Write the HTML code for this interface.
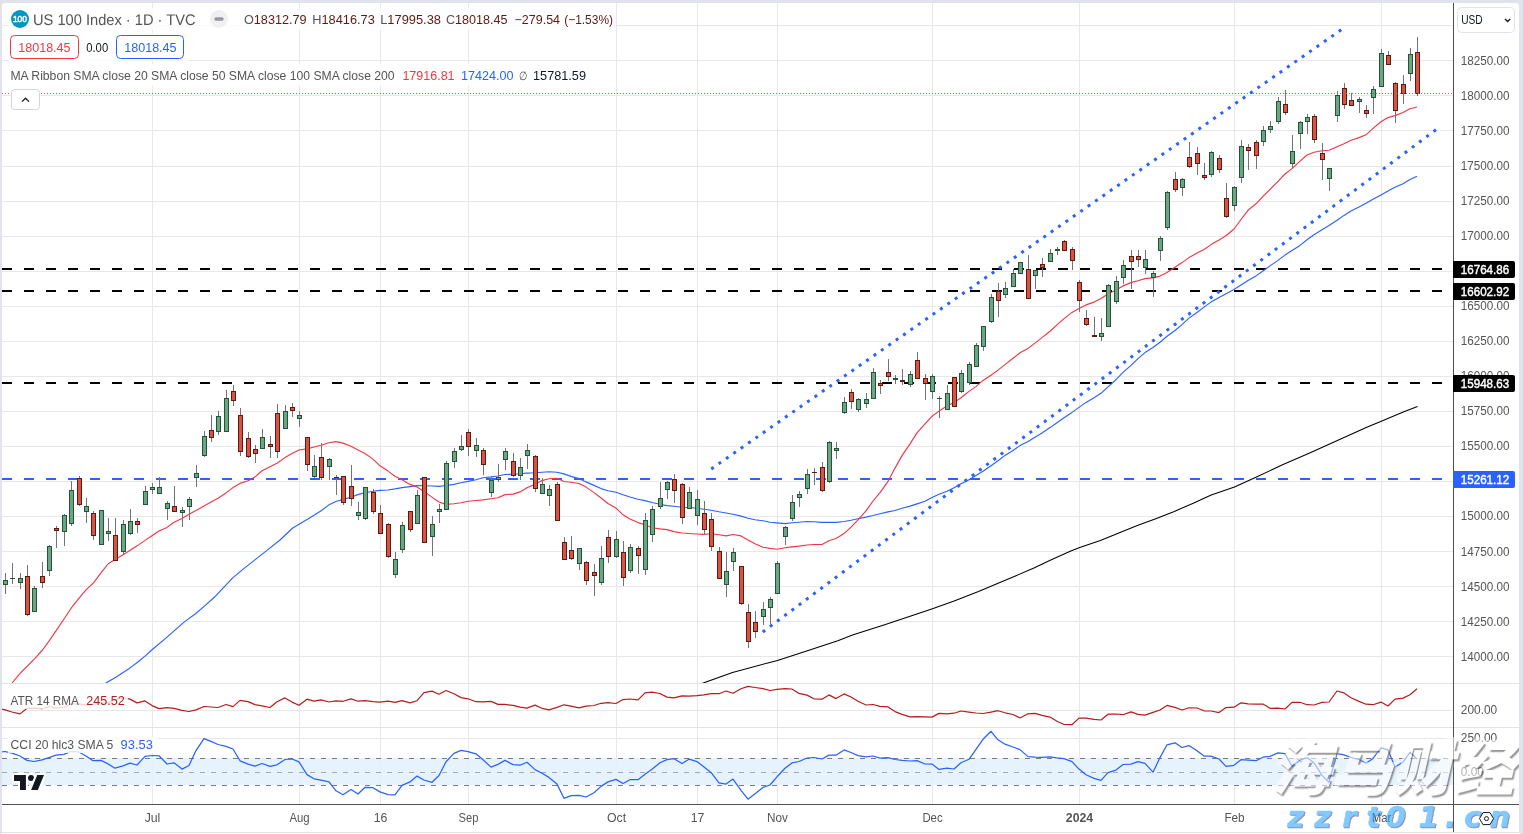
<!DOCTYPE html><html lang="en"><head><meta charset="utf-8"><title>US 100 Index chart</title><style>
*{box-sizing:border-box;margin:0;padding:0}
html,body{width:1523px;height:834px;overflow:hidden;background:#fff}
body{font-family:"Liberation Sans","Noto Sans CJK SC",sans-serif;position:relative;color:#555}
.t{position:absolute;white-space:nowrap;line-height:1}
</style></head><body>
<svg width="1523" height="834" viewBox="0 0 1523 834" style="position:absolute;left:0;top:0">
<defs><clipPath id="cm"><rect x="2" y="3" width="1451" height="680"/></clipPath><clipPath id="ca"><rect x="2" y="684" width="1451" height="43"/></clipPath><clipPath id="cc"><rect x="2" y="728" width="1451" height="76"/></clipPath></defs>
<g shape-rendering="crispEdges" fill="#e8e8e8">
<rect x="2" y="25" width="1451" height="1"/>
<rect x="2" y="60" width="1451" height="1"/>
<rect x="2" y="95" width="1451" height="1"/>
<rect x="2" y="130" width="1451" height="1"/>
<rect x="2" y="166" width="1451" height="1"/>
<rect x="2" y="201" width="1451" height="1"/>
<rect x="2" y="236" width="1451" height="1"/>
<rect x="2" y="271" width="1451" height="1"/>
<rect x="2" y="306" width="1451" height="1"/>
<rect x="2" y="341" width="1451" height="1"/>
<rect x="2" y="376" width="1451" height="1"/>
<rect x="2" y="411" width="1451" height="1"/>
<rect x="2" y="446" width="1451" height="1"/>
<rect x="2" y="481" width="1451" height="1"/>
<rect x="2" y="516" width="1451" height="1"/>
<rect x="2" y="551" width="1451" height="1"/>
<rect x="2" y="586" width="1451" height="1"/>
<rect x="2" y="621" width="1451" height="1"/>
<rect x="2" y="656" width="1451" height="1"/>
<rect x="152" y="3" width="1" height="801"/>
<rect x="299" y="3" width="1" height="801"/>
<rect x="380" y="3" width="1" height="801"/>
<rect x="468" y="3" width="1" height="801"/>
<rect x="616" y="3" width="1" height="801"/>
<rect x="697" y="3" width="1" height="801"/>
<rect x="777" y="3" width="1" height="801"/>
<rect x="932" y="3" width="1" height="801"/>
<rect x="1079" y="3" width="1" height="801"/>
<rect x="1234" y="3" width="1" height="801"/>
<rect x="1381" y="3" width="1" height="801"/>
<rect x="2" y="710" width="1451" height="1"/>
<rect x="2" y="738" width="1451" height="1"/>
</g>
<rect x="2" y="758" width="1451" height="27" fill="#e3f2fd" opacity="0.9"/>
<g shape-rendering="crispEdges" stroke="#787b86" stroke-width="1" stroke-dasharray="5 6">
<line x1="2" y1="758.5" x2="1453" y2="758.5" opacity="1"/>
<line x1="2" y1="772.5" x2="1453" y2="772.5" opacity="0.6"/>
<line x1="2" y1="785.5" x2="1453" y2="785.5" opacity="1"/>
</g>
<g shape-rendering="crispEdges" fill="#e0e3eb"><rect x="2" y="683" width="1517" height="1"/><rect x="2" y="727" width="1517" height="1"/></g>
<line x1="2" y1="269" x2="1453" y2="269" stroke="#000" stroke-width="2" stroke-dasharray="10 12" shape-rendering="crispEdges"/>
<line x1="2" y1="291" x2="1453" y2="291" stroke="#000" stroke-width="2" stroke-dasharray="10 12" shape-rendering="crispEdges"/>
<line x1="2" y1="383" x2="1453" y2="383" stroke="#000" stroke-width="2" stroke-dasharray="10 12" shape-rendering="crispEdges"/>
<line x1="2" y1="479" x2="1453" y2="479" stroke="#2962ff" stroke-width="2" stroke-dasharray="10 12" shape-rendering="crispEdges"/>
<g stroke="#2962ff" stroke-width="3" stroke-dasharray="3 6" fill="none">
<line x1="711.23" y1="469.0" x2="1341.4" y2="29.65"/>
<line x1="762.7" y1="632.0" x2="1436.1" y2="129.6"/>
</g>
<g clip-path="url(#cm)">
<polyline points="696.0,686.0 703.9,682.8 732.5,672.4 777.5,660.4 808.2,650.5 837.8,640.7 852.5,635.1 883.9,625.0 911.6,615.7 932.5,608.7 954.1,601.0 978.5,591.5 996.9,583.8 1015.4,576.0 1033.9,568.0 1052.4,559.2 1070.8,550.9 1079.7,547.5 1100.4,540.4 1118.8,533.0 1137.3,525.6 1155.8,518.7 1174.3,511.4 1192.7,503.4 1211.2,495.1 1234.5,487.1 1255.4,477.5 1283.1,464.6 1310.8,452.6 1338.5,440.0 1366.2,427.6 1381.9,421.0 1403.2,411.9 1417.5,406.6" fill="none" stroke="#000000" stroke-width="1.05" stroke-linejoin="round" />
<polyline points="99.5,688.0 106.6,682.6 115.4,677.6 129.3,668.4 137.6,662.3 145.9,655.4 152.6,649.3 166.2,637.9 175.5,629.6 184.7,621.6 195.8,613.5 205.0,605.6 214.3,597.3 223.5,587.7 232.7,577.9 243.8,568.6 254.9,559.9 266.0,551.1 280.0,540.0 292.7,528.0 299.5,523.9 307.4,519.2 314.4,514.9 321.5,510.5 329.5,504.4 336.5,501.2 343.4,499.4 351.5,497.0 358.5,494.4 365.0,492.7 373.0,491.3 380.0,490.4 388.0,490.0 395.0,488.9 402.0,487.6 410.0,486.6 417.0,485.6 424.0,485.8 432.0,486.0 439.0,486.4 446.0,485.5 454.0,484.4 461.0,482.7 468.0,481.4 476.0,479.7 483.0,477.7 491.0,476.9 498.0,476.0 505.0,474.5 513.0,474.2 520.0,473.8 527.0,473.1 535.0,472.8 542.0,472.2 549.0,471.8 557.0,472.2 564.0,473.9 571.0,476.4 579.0,478.6 586.0,481.9 594.0,485.4 601.0,488.6 608.0,490.7 616.0,492.3 623.0,494.8 630.0,497.0 638.0,499.2 645.0,500.6 652.0,502.5 660.0,504.3 667.0,505.6 674.0,506.2 682.0,507.2 689.0,507.5 697.0,508.3 704.0,509.3 711.0,510.2 719.0,511.8 726.0,513.0 733.0,514.3 741.0,516.1 748.0,518.3 755.0,519.8 763.0,520.8 770.0,522.3 777.0,522.9 785.0,523.6 792.0,522.8 799.0,522.2 807.0,521.5 814.0,521.7 822.0,522.4 829.0,522.4 836.0,522.4 844.0,521.5 851.0,520.3 858.0,518.7 866.0,517.1 873.0,515.5 880.0,513.7 888.0,511.9 895.0,510.5 902.0,508.3 910.0,506.1 917.0,503.9 925.0,501.2 932.0,497.5 939.0,494.3 947.0,491.2 954.0,487.7 961.0,483.7 969.0,479.8 976.0,475.6 983.0,471.3 991.0,465.7 998.0,460.8 1005.0,455.4 1013.0,450.5 1020.0,445.6 1028.0,441.6 1035.0,437.3 1042.0,432.9 1050.0,427.6 1057.0,422.7 1064.0,417.7 1072.0,412.4 1079.0,407.4 1086.0,402.4 1094.0,397.7 1101.0,393.3 1108.0,386.9 1116.0,379.7 1123.0,372.4 1131.0,365.4 1138.0,358.6 1145.0,352.6 1153.0,347.5 1160.0,342.2 1167.0,336.2 1175.0,330.5 1182.0,324.6 1189.0,318.1 1197.0,312.5 1204.0,307.1 1211.0,302.1 1219.0,297.5 1226.0,293.8 1234.0,289.6 1241.0,285.1 1248.0,280.4 1256.0,275.9 1263.0,271.0 1270.0,265.9 1278.0,260.4 1285.0,255.1 1292.0,250.5 1300.0,245.4 1307.0,239.8 1314.0,234.7 1322.0,229.7 1329.0,225.6 1337.0,220.3 1344.0,215.4 1351.0,211.0 1359.0,207.1 1366.0,203.3 1373.0,199.3 1381.0,194.9 1388.0,191.0 1395.0,187.2 1403.0,183.7 1410.0,179.4 1417.0,176.2" fill="none" stroke="#2962ff" stroke-width="1.15" stroke-linejoin="round" />
<polyline points="5.5,691.5 12.5,682.5 20.5,672.8 27.5,665.8 34.5,658.8 42.5,650.0 49.5,640.3 56.5,630.2 64.5,618.2 71.5,607.7 79.5,597.7 86.5,589.4 93.5,582.8 101.5,572.2 108.5,563.5 115.5,559.3 123.5,554.4 130.5,550.0 137.5,545.6 145.0,540.4 152.0,535.7 159.0,531.1 167.0,527.4 174.0,522.2 182.0,518.4 189.0,514.2 196.0,510.6 204.0,505.9 211.0,501.9 218.0,498.2 226.0,492.9 233.0,487.6 240.0,483.4 248.0,480.8 255.0,476.9 262.0,470.7 270.0,466.8 277.0,463.3 285.0,457.6 292.0,453.6 299.0,450.0 307.0,448.9 314.0,447.0 321.0,445.3 329.0,442.8 336.0,441.6 343.0,443.1 351.0,446.2 358.0,449.9 365.0,453.5 373.0,459.1 380.0,465.8 388.0,471.1 395.0,476.2 402.0,479.8 410.0,484.4 417.0,486.9 424.0,491.4 432.0,497.1 439.0,502.0 446.0,504.4 454.0,503.8 461.0,502.8 468.0,501.2 476.0,500.5 483.0,499.9 491.0,498.8 498.0,497.7 505.0,494.6 513.0,494.1 520.0,491.9 527.0,487.7 535.0,484.3 542.0,480.6 549.0,478.8 557.0,478.3 564.0,481.5 571.0,482.3 579.0,483.5 586.0,487.1 594.0,492.6 601.0,498.0 608.0,503.5 616.0,508.1 623.0,514.8 630.0,518.9 638.0,522.6 645.0,524.8 652.0,527.7 660.0,528.9 667.0,529.6 674.0,531.6 682.0,533.0 689.0,533.5 697.0,534.0 704.0,534.4 711.0,533.8 719.0,534.8 726.0,535.9 733.0,534.5 741.0,535.9 748.0,540.0 755.0,543.8 763.0,547.3 770.0,548.4 777.0,549.2 785.0,547.8 792.0,546.9 799.0,546.1 807.0,545.0 814.0,544.5 822.0,544.5 829.0,540.7 836.0,538.5 844.0,533.6 851.0,527.2 858.0,519.9 866.0,510.9 873.0,501.0 880.0,492.6 888.0,481.3 895.0,468.1 902.0,455.6 910.0,443.9 917.0,432.9 925.0,423.9 932.0,416.3 939.0,411.1 947.0,406.1 954.0,402.6 961.0,397.7 969.0,391.4 976.0,386.6 983.0,380.4 991.0,375.2 998.0,370.1 1005.0,364.6 1013.0,358.3 1020.0,352.8 1028.0,348.4 1035.0,343.1 1042.0,337.6 1050.0,331.2 1057.0,324.9 1064.0,318.6 1072.0,312.4 1079.0,308.6 1086.0,304.9 1094.0,302.1 1101.0,298.4 1108.0,294.0 1116.0,289.9 1123.0,285.9 1131.0,282.6 1138.0,280.7 1145.0,278.6 1153.0,277.9 1160.0,276.1 1167.0,272.6 1175.0,267.2 1182.0,262.6 1189.0,257.6 1197.0,253.1 1204.0,249.5 1211.0,244.6 1219.0,240.1 1226.0,235.8 1234.0,229.0 1241.0,219.5 1248.0,210.3 1256.0,203.8 1263.0,196.3 1270.0,189.3 1278.0,181.3 1285.0,174.0 1292.0,168.6 1300.0,161.1 1307.0,155.0 1314.0,152.3 1322.0,150.8 1329.0,150.3 1337.0,146.8 1344.0,143.8 1351.0,140.2 1359.0,137.6 1366.0,134.8 1373.0,128.4 1381.0,121.7 1388.0,117.6 1395.0,115.6 1403.0,112.5 1410.0,108.7 1417.0,107.0" fill="none" stroke="#f23645" stroke-width="1.15" stroke-linejoin="round" />
</g>
<g shape-rendering="crispEdges">
<rect x="5" y="573" width="1" height="21" fill="#737375"/>
<rect x="3" y="580" width="5" height="5" fill="#225437"/>
<rect x="4" y="581" width="3" height="3" fill="#6ba583"/>
<rect x="12" y="563" width="1" height="21" fill="#737375"/>
<rect x="10" y="578" width="5" height="1" fill="#225437"/>
<rect x="20" y="573" width="1" height="16" fill="#737375"/>
<rect x="18" y="578" width="5" height="5" fill="#225437"/>
<rect x="19" y="579" width="3" height="3" fill="#6ba583"/>
<rect x="27" y="565" width="1" height="51" fill="#737375"/>
<rect x="25" y="576" width="5" height="39" fill="#5b1a13"/>
<rect x="26" y="577" width="3" height="37" fill="#d75442"/>
<rect x="34" y="586" width="1" height="26" fill="#737375"/>
<rect x="32" y="588" width="5" height="24" fill="#225437"/>
<rect x="33" y="589" width="3" height="22" fill="#6ba583"/>
<rect x="42" y="562" width="1" height="26" fill="#737375"/>
<rect x="40" y="576" width="5" height="7" fill="#5b1a13"/>
<rect x="41" y="577" width="3" height="5" fill="#d75442"/>
<rect x="49" y="545" width="1" height="31" fill="#737375"/>
<rect x="47" y="546" width="5" height="25" fill="#225437"/>
<rect x="48" y="547" width="3" height="23" fill="#6ba583"/>
<rect x="56" y="526" width="1" height="22" fill="#737375"/>
<rect x="54" y="528" width="5" height="3" fill="#5b1a13"/>
<rect x="55" y="529" width="3" height="1" fill="#d75442"/>
<rect x="64" y="514" width="1" height="32" fill="#737375"/>
<rect x="62" y="515" width="5" height="17" fill="#225437"/>
<rect x="63" y="516" width="3" height="15" fill="#6ba583"/>
<rect x="71" y="481" width="1" height="45" fill="#737375"/>
<rect x="69" y="490" width="5" height="34" fill="#225437"/>
<rect x="70" y="491" width="3" height="32" fill="#6ba583"/>
<rect x="79" y="476" width="1" height="30" fill="#737375"/>
<rect x="77" y="478" width="5" height="27" fill="#5b1a13"/>
<rect x="78" y="479" width="3" height="25" fill="#d75442"/>
<rect x="86" y="498" width="1" height="25" fill="#737375"/>
<rect x="84" y="506" width="5" height="6" fill="#225437"/>
<rect x="85" y="507" width="3" height="4" fill="#6ba583"/>
<rect x="93" y="511" width="1" height="29" fill="#737375"/>
<rect x="91" y="513" width="5" height="23" fill="#5b1a13"/>
<rect x="92" y="514" width="3" height="21" fill="#d75442"/>
<rect x="101" y="510" width="1" height="35" fill="#737375"/>
<rect x="99" y="510" width="5" height="35" fill="#225437"/>
<rect x="100" y="511" width="3" height="33" fill="#6ba583"/>
<rect x="108" y="518" width="1" height="23" fill="#737375"/>
<rect x="106" y="531" width="5" height="3" fill="#225437"/>
<rect x="107" y="532" width="3" height="1" fill="#6ba583"/>
<rect x="115" y="518" width="1" height="43" fill="#737375"/>
<rect x="113" y="535" width="5" height="26" fill="#5b1a13"/>
<rect x="114" y="536" width="3" height="24" fill="#d75442"/>
<rect x="123" y="520" width="1" height="34" fill="#737375"/>
<rect x="121" y="524" width="5" height="28" fill="#225437"/>
<rect x="122" y="525" width="3" height="26" fill="#6ba583"/>
<rect x="130" y="509" width="1" height="26" fill="#737375"/>
<rect x="128" y="521" width="5" height="13" fill="#225437"/>
<rect x="129" y="522" width="3" height="11" fill="#6ba583"/>
<rect x="137" y="518" width="1" height="15" fill="#737375"/>
<rect x="135" y="521" width="5" height="4" fill="#5b1a13"/>
<rect x="136" y="522" width="3" height="2" fill="#d75442"/>
<rect x="145" y="486" width="1" height="19" fill="#737375"/>
<rect x="143" y="491" width="5" height="14" fill="#225437"/>
<rect x="144" y="492" width="3" height="12" fill="#6ba583"/>
<rect x="152" y="483" width="1" height="11" fill="#737375"/>
<rect x="150" y="487" width="5" height="3" fill="#225437"/>
<rect x="151" y="488" width="3" height="1" fill="#6ba583"/>
<rect x="159" y="477" width="1" height="17" fill="#737375"/>
<rect x="157" y="487" width="5" height="7" fill="#225437"/>
<rect x="158" y="488" width="3" height="5" fill="#6ba583"/>
<rect x="167" y="501" width="1" height="19" fill="#737375"/>
<rect x="165" y="503" width="5" height="6" fill="#225437"/>
<rect x="166" y="504" width="3" height="4" fill="#6ba583"/>
<rect x="174" y="486" width="1" height="26" fill="#737375"/>
<rect x="172" y="506" width="5" height="6" fill="#5b1a13"/>
<rect x="173" y="507" width="3" height="4" fill="#d75442"/>
<rect x="182" y="507" width="1" height="20" fill="#737375"/>
<rect x="180" y="510" width="5" height="3" fill="#225437"/>
<rect x="181" y="511" width="3" height="1" fill="#6ba583"/>
<rect x="189" y="497" width="1" height="23" fill="#737375"/>
<rect x="187" y="499" width="5" height="8" fill="#225437"/>
<rect x="188" y="500" width="3" height="6" fill="#6ba583"/>
<rect x="196" y="465" width="1" height="22" fill="#737375"/>
<rect x="194" y="473" width="5" height="5" fill="#225437"/>
<rect x="195" y="474" width="3" height="3" fill="#6ba583"/>
<rect x="204" y="431" width="1" height="26" fill="#737375"/>
<rect x="202" y="436" width="5" height="20" fill="#225437"/>
<rect x="203" y="437" width="3" height="18" fill="#6ba583"/>
<rect x="211" y="415" width="1" height="27" fill="#737375"/>
<rect x="209" y="430" width="5" height="8" fill="#5b1a13"/>
<rect x="210" y="431" width="3" height="6" fill="#d75442"/>
<rect x="218" y="411" width="1" height="24" fill="#737375"/>
<rect x="216" y="416" width="5" height="16" fill="#225437"/>
<rect x="217" y="417" width="3" height="14" fill="#6ba583"/>
<rect x="226" y="390" width="1" height="42" fill="#737375"/>
<rect x="224" y="398" width="5" height="34" fill="#225437"/>
<rect x="225" y="399" width="3" height="32" fill="#6ba583"/>
<rect x="233" y="385" width="1" height="21" fill="#737375"/>
<rect x="231" y="391" width="5" height="10" fill="#5b1a13"/>
<rect x="232" y="392" width="3" height="8" fill="#d75442"/>
<rect x="240" y="408" width="1" height="48" fill="#737375"/>
<rect x="238" y="415" width="5" height="37" fill="#5b1a13"/>
<rect x="239" y="416" width="3" height="35" fill="#d75442"/>
<rect x="248" y="432" width="1" height="26" fill="#737375"/>
<rect x="246" y="438" width="5" height="19" fill="#5b1a13"/>
<rect x="247" y="439" width="3" height="17" fill="#d75442"/>
<rect x="255" y="445" width="1" height="18" fill="#737375"/>
<rect x="253" y="449" width="5" height="5" fill="#5b1a13"/>
<rect x="254" y="450" width="3" height="3" fill="#d75442"/>
<rect x="262" y="429" width="1" height="20" fill="#737375"/>
<rect x="260" y="437" width="5" height="12" fill="#225437"/>
<rect x="261" y="438" width="3" height="10" fill="#6ba583"/>
<rect x="270" y="436" width="1" height="22" fill="#737375"/>
<rect x="268" y="444" width="5" height="3" fill="#5b1a13"/>
<rect x="269" y="445" width="3" height="1" fill="#d75442"/>
<rect x="277" y="404" width="1" height="54" fill="#737375"/>
<rect x="275" y="413" width="5" height="39" fill="#5b1a13"/>
<rect x="276" y="414" width="3" height="37" fill="#d75442"/>
<rect x="285" y="405" width="1" height="24" fill="#737375"/>
<rect x="283" y="411" width="5" height="18" fill="#225437"/>
<rect x="284" y="412" width="3" height="16" fill="#6ba583"/>
<rect x="292" y="403" width="1" height="14" fill="#737375"/>
<rect x="290" y="407" width="5" height="4" fill="#5b1a13"/>
<rect x="291" y="408" width="3" height="2" fill="#d75442"/>
<rect x="299" y="411" width="1" height="16" fill="#737375"/>
<rect x="297" y="415" width="5" height="4" fill="#225437"/>
<rect x="298" y="416" width="3" height="2" fill="#6ba583"/>
<rect x="307" y="437" width="1" height="34" fill="#737375"/>
<rect x="305" y="437" width="5" height="28" fill="#5b1a13"/>
<rect x="306" y="438" width="3" height="26" fill="#d75442"/>
<rect x="314" y="455" width="1" height="23" fill="#737375"/>
<rect x="312" y="466" width="5" height="11" fill="#225437"/>
<rect x="313" y="467" width="3" height="9" fill="#6ba583"/>
<rect x="321" y="443" width="1" height="37" fill="#737375"/>
<rect x="319" y="457" width="5" height="21" fill="#5b1a13"/>
<rect x="320" y="458" width="3" height="19" fill="#d75442"/>
<rect x="329" y="458" width="1" height="22" fill="#737375"/>
<rect x="327" y="459" width="5" height="8" fill="#225437"/>
<rect x="328" y="460" width="3" height="6" fill="#6ba583"/>
<rect x="336" y="475" width="1" height="20" fill="#737375"/>
<rect x="334" y="477" width="5" height="1" fill="#5b1a13"/>
<rect x="343" y="476" width="1" height="29" fill="#737375"/>
<rect x="341" y="476" width="5" height="27" fill="#5b1a13"/>
<rect x="342" y="477" width="3" height="25" fill="#d75442"/>
<rect x="351" y="465" width="1" height="41" fill="#737375"/>
<rect x="349" y="486" width="5" height="13" fill="#5b1a13"/>
<rect x="350" y="487" width="3" height="11" fill="#d75442"/>
<rect x="358" y="502" width="1" height="18" fill="#737375"/>
<rect x="356" y="512" width="5" height="4" fill="#225437"/>
<rect x="357" y="513" width="3" height="2" fill="#6ba583"/>
<rect x="365" y="487" width="1" height="33" fill="#737375"/>
<rect x="363" y="487" width="5" height="32" fill="#225437"/>
<rect x="364" y="488" width="3" height="30" fill="#6ba583"/>
<rect x="373" y="489" width="1" height="25" fill="#737375"/>
<rect x="371" y="492" width="5" height="20" fill="#5b1a13"/>
<rect x="372" y="493" width="3" height="18" fill="#d75442"/>
<rect x="380" y="505" width="1" height="29" fill="#737375"/>
<rect x="378" y="513" width="5" height="21" fill="#5b1a13"/>
<rect x="379" y="514" width="3" height="19" fill="#d75442"/>
<rect x="388" y="523" width="1" height="35" fill="#737375"/>
<rect x="386" y="524" width="5" height="33" fill="#5b1a13"/>
<rect x="387" y="525" width="3" height="31" fill="#d75442"/>
<rect x="395" y="552" width="1" height="26" fill="#737375"/>
<rect x="393" y="559" width="5" height="16" fill="#225437"/>
<rect x="394" y="560" width="3" height="14" fill="#6ba583"/>
<rect x="402" y="522" width="1" height="31" fill="#737375"/>
<rect x="400" y="525" width="5" height="25" fill="#225437"/>
<rect x="401" y="526" width="3" height="23" fill="#6ba583"/>
<rect x="410" y="511" width="1" height="21" fill="#737375"/>
<rect x="408" y="511" width="5" height="19" fill="#5b1a13"/>
<rect x="409" y="512" width="3" height="17" fill="#d75442"/>
<rect x="417" y="490" width="1" height="34" fill="#737375"/>
<rect x="415" y="495" width="5" height="29" fill="#225437"/>
<rect x="416" y="496" width="3" height="27" fill="#6ba583"/>
<rect x="424" y="477" width="1" height="66" fill="#737375"/>
<rect x="422" y="477" width="5" height="66" fill="#5b1a13"/>
<rect x="423" y="478" width="3" height="64" fill="#d75442"/>
<rect x="432" y="516" width="1" height="40" fill="#737375"/>
<rect x="430" y="524" width="5" height="13" fill="#225437"/>
<rect x="431" y="525" width="3" height="11" fill="#6ba583"/>
<rect x="439" y="504" width="1" height="19" fill="#737375"/>
<rect x="437" y="509" width="5" height="3" fill="#225437"/>
<rect x="438" y="510" width="3" height="1" fill="#6ba583"/>
<rect x="446" y="461" width="1" height="49" fill="#737375"/>
<rect x="444" y="463" width="5" height="47" fill="#225437"/>
<rect x="445" y="464" width="3" height="45" fill="#6ba583"/>
<rect x="454" y="448" width="1" height="20" fill="#737375"/>
<rect x="452" y="451" width="5" height="11" fill="#225437"/>
<rect x="453" y="452" width="3" height="9" fill="#6ba583"/>
<rect x="461" y="435" width="1" height="16" fill="#737375"/>
<rect x="459" y="446" width="5" height="4" fill="#225437"/>
<rect x="460" y="447" width="3" height="2" fill="#6ba583"/>
<rect x="468" y="429" width="1" height="27" fill="#737375"/>
<rect x="466" y="432" width="5" height="15" fill="#5b1a13"/>
<rect x="467" y="433" width="3" height="13" fill="#d75442"/>
<rect x="476" y="438" width="1" height="19" fill="#737375"/>
<rect x="474" y="445" width="5" height="6" fill="#225437"/>
<rect x="475" y="446" width="3" height="4" fill="#6ba583"/>
<rect x="483" y="448" width="1" height="27" fill="#737375"/>
<rect x="481" y="450" width="5" height="15" fill="#5b1a13"/>
<rect x="482" y="451" width="3" height="13" fill="#d75442"/>
<rect x="491" y="476" width="1" height="21" fill="#737375"/>
<rect x="489" y="480" width="5" height="13" fill="#225437"/>
<rect x="490" y="481" width="3" height="11" fill="#6ba583"/>
<rect x="498" y="464" width="1" height="18" fill="#737375"/>
<rect x="496" y="477" width="5" height="3" fill="#225437"/>
<rect x="497" y="478" width="3" height="1" fill="#6ba583"/>
<rect x="505" y="448" width="1" height="22" fill="#737375"/>
<rect x="503" y="451" width="5" height="9" fill="#225437"/>
<rect x="504" y="452" width="3" height="7" fill="#6ba583"/>
<rect x="513" y="453" width="1" height="24" fill="#737375"/>
<rect x="511" y="461" width="5" height="15" fill="#5b1a13"/>
<rect x="512" y="462" width="3" height="13" fill="#d75442"/>
<rect x="520" y="458" width="1" height="22" fill="#737375"/>
<rect x="518" y="467" width="5" height="9" fill="#225437"/>
<rect x="519" y="468" width="3" height="7" fill="#6ba583"/>
<rect x="527" y="444" width="1" height="25" fill="#737375"/>
<rect x="525" y="450" width="5" height="6" fill="#225437"/>
<rect x="526" y="451" width="3" height="4" fill="#6ba583"/>
<rect x="535" y="455" width="1" height="37" fill="#737375"/>
<rect x="533" y="456" width="5" height="33" fill="#5b1a13"/>
<rect x="534" y="457" width="3" height="31" fill="#d75442"/>
<rect x="542" y="478" width="1" height="16" fill="#737375"/>
<rect x="540" y="484" width="5" height="10" fill="#225437"/>
<rect x="541" y="485" width="3" height="8" fill="#6ba583"/>
<rect x="549" y="485" width="1" height="21" fill="#737375"/>
<rect x="547" y="489" width="5" height="7" fill="#225437"/>
<rect x="548" y="490" width="3" height="5" fill="#6ba583"/>
<rect x="557" y="482" width="1" height="39" fill="#737375"/>
<rect x="555" y="484" width="5" height="37" fill="#5b1a13"/>
<rect x="556" y="485" width="3" height="35" fill="#d75442"/>
<rect x="564" y="537" width="1" height="23" fill="#737375"/>
<rect x="562" y="542" width="5" height="18" fill="#5b1a13"/>
<rect x="563" y="543" width="3" height="16" fill="#d75442"/>
<rect x="571" y="536" width="1" height="24" fill="#737375"/>
<rect x="569" y="550" width="5" height="9" fill="#5b1a13"/>
<rect x="570" y="551" width="3" height="7" fill="#d75442"/>
<rect x="579" y="548" width="1" height="22" fill="#737375"/>
<rect x="577" y="548" width="5" height="16" fill="#225437"/>
<rect x="578" y="549" width="3" height="14" fill="#6ba583"/>
<rect x="586" y="561" width="1" height="24" fill="#737375"/>
<rect x="584" y="562" width="5" height="19" fill="#5b1a13"/>
<rect x="585" y="563" width="3" height="17" fill="#d75442"/>
<rect x="594" y="564" width="1" height="32" fill="#737375"/>
<rect x="592" y="572" width="5" height="4" fill="#5b1a13"/>
<rect x="593" y="573" width="3" height="2" fill="#d75442"/>
<rect x="601" y="546" width="1" height="39" fill="#737375"/>
<rect x="599" y="558" width="5" height="25" fill="#225437"/>
<rect x="600" y="559" width="3" height="23" fill="#6ba583"/>
<rect x="608" y="530" width="1" height="33" fill="#737375"/>
<rect x="606" y="537" width="5" height="20" fill="#5b1a13"/>
<rect x="607" y="538" width="3" height="18" fill="#d75442"/>
<rect x="616" y="531" width="1" height="27" fill="#737375"/>
<rect x="614" y="539" width="5" height="18" fill="#225437"/>
<rect x="615" y="540" width="3" height="16" fill="#6ba583"/>
<rect x="623" y="541" width="1" height="45" fill="#737375"/>
<rect x="621" y="552" width="5" height="26" fill="#5b1a13"/>
<rect x="622" y="553" width="3" height="24" fill="#d75442"/>
<rect x="630" y="544" width="1" height="29" fill="#737375"/>
<rect x="628" y="547" width="5" height="24" fill="#225437"/>
<rect x="629" y="548" width="3" height="22" fill="#6ba583"/>
<rect x="638" y="546" width="1" height="28" fill="#737375"/>
<rect x="636" y="548" width="5" height="8" fill="#5b1a13"/>
<rect x="637" y="549" width="3" height="6" fill="#d75442"/>
<rect x="645" y="513" width="1" height="62" fill="#737375"/>
<rect x="643" y="520" width="5" height="50" fill="#225437"/>
<rect x="644" y="521" width="3" height="48" fill="#6ba583"/>
<rect x="652" y="506" width="1" height="36" fill="#737375"/>
<rect x="650" y="509" width="5" height="26" fill="#225437"/>
<rect x="651" y="510" width="3" height="24" fill="#6ba583"/>
<rect x="660" y="482" width="1" height="27" fill="#737375"/>
<rect x="658" y="498" width="5" height="9" fill="#225437"/>
<rect x="659" y="499" width="3" height="7" fill="#6ba583"/>
<rect x="667" y="481" width="1" height="18" fill="#737375"/>
<rect x="665" y="482" width="5" height="8" fill="#225437"/>
<rect x="666" y="483" width="3" height="6" fill="#6ba583"/>
<rect x="674" y="474" width="1" height="29" fill="#737375"/>
<rect x="672" y="479" width="5" height="12" fill="#5b1a13"/>
<rect x="673" y="480" width="3" height="10" fill="#d75442"/>
<rect x="682" y="483" width="1" height="41" fill="#737375"/>
<rect x="680" y="484" width="5" height="34" fill="#5b1a13"/>
<rect x="681" y="485" width="3" height="32" fill="#d75442"/>
<rect x="689" y="487" width="1" height="22" fill="#737375"/>
<rect x="687" y="492" width="5" height="17" fill="#225437"/>
<rect x="688" y="493" width="3" height="15" fill="#6ba583"/>
<rect x="697" y="490" width="1" height="35" fill="#737375"/>
<rect x="695" y="499" width="5" height="17" fill="#225437"/>
<rect x="696" y="500" width="3" height="15" fill="#6ba583"/>
<rect x="704" y="501" width="1" height="34" fill="#737375"/>
<rect x="702" y="513" width="5" height="17" fill="#5b1a13"/>
<rect x="703" y="514" width="3" height="15" fill="#d75442"/>
<rect x="711" y="513" width="1" height="38" fill="#737375"/>
<rect x="709" y="519" width="5" height="28" fill="#5b1a13"/>
<rect x="710" y="520" width="3" height="26" fill="#d75442"/>
<rect x="719" y="547" width="1" height="32" fill="#737375"/>
<rect x="717" y="551" width="5" height="28" fill="#5b1a13"/>
<rect x="718" y="552" width="3" height="26" fill="#d75442"/>
<rect x="726" y="552" width="1" height="45" fill="#737375"/>
<rect x="724" y="571" width="5" height="14" fill="#225437"/>
<rect x="725" y="572" width="3" height="12" fill="#6ba583"/>
<rect x="733" y="548" width="1" height="23" fill="#737375"/>
<rect x="731" y="552" width="5" height="10" fill="#225437"/>
<rect x="732" y="553" width="3" height="8" fill="#6ba583"/>
<rect x="741" y="566" width="1" height="39" fill="#737375"/>
<rect x="739" y="566" width="5" height="38" fill="#5b1a13"/>
<rect x="740" y="567" width="3" height="36" fill="#d75442"/>
<rect x="748" y="604" width="1" height="44" fill="#737375"/>
<rect x="746" y="612" width="5" height="30" fill="#5b1a13"/>
<rect x="747" y="613" width="3" height="28" fill="#d75442"/>
<rect x="755" y="611" width="1" height="27" fill="#737375"/>
<rect x="753" y="622" width="5" height="10" fill="#5b1a13"/>
<rect x="754" y="623" width="3" height="8" fill="#d75442"/>
<rect x="763" y="602" width="1" height="23" fill="#737375"/>
<rect x="761" y="609" width="5" height="8" fill="#225437"/>
<rect x="762" y="610" width="3" height="6" fill="#6ba583"/>
<rect x="770" y="597" width="1" height="27" fill="#737375"/>
<rect x="768" y="599" width="5" height="9" fill="#225437"/>
<rect x="769" y="600" width="3" height="7" fill="#6ba583"/>
<rect x="777" y="561" width="1" height="33" fill="#737375"/>
<rect x="775" y="563" width="5" height="31" fill="#225437"/>
<rect x="776" y="564" width="3" height="29" fill="#6ba583"/>
<rect x="785" y="526" width="1" height="19" fill="#737375"/>
<rect x="783" y="527" width="5" height="10" fill="#225437"/>
<rect x="784" y="528" width="3" height="8" fill="#6ba583"/>
<rect x="792" y="495" width="1" height="26" fill="#737375"/>
<rect x="790" y="502" width="5" height="17" fill="#225437"/>
<rect x="791" y="503" width="3" height="15" fill="#6ba583"/>
<rect x="799" y="491" width="1" height="16" fill="#737375"/>
<rect x="797" y="494" width="5" height="4" fill="#225437"/>
<rect x="798" y="495" width="3" height="2" fill="#6ba583"/>
<rect x="807" y="469" width="1" height="25" fill="#737375"/>
<rect x="805" y="474" width="5" height="15" fill="#225437"/>
<rect x="806" y="475" width="3" height="13" fill="#6ba583"/>
<rect x="814" y="468" width="1" height="17" fill="#737375"/>
<rect x="812" y="472" width="5" height="1" fill="#5b1a13"/>
<rect x="822" y="462" width="1" height="30" fill="#737375"/>
<rect x="820" y="467" width="5" height="24" fill="#5b1a13"/>
<rect x="821" y="468" width="3" height="22" fill="#d75442"/>
<rect x="829" y="441" width="1" height="42" fill="#737375"/>
<rect x="827" y="442" width="5" height="40" fill="#225437"/>
<rect x="828" y="443" width="3" height="38" fill="#6ba583"/>
<rect x="836" y="442" width="1" height="17" fill="#737375"/>
<rect x="834" y="448" width="5" height="3" fill="#225437"/>
<rect x="835" y="449" width="3" height="1" fill="#6ba583"/>
<rect x="844" y="397" width="1" height="17" fill="#737375"/>
<rect x="842" y="402" width="5" height="11" fill="#225437"/>
<rect x="843" y="403" width="3" height="9" fill="#6ba583"/>
<rect x="851" y="389" width="1" height="20" fill="#737375"/>
<rect x="849" y="392" width="5" height="10" fill="#5b1a13"/>
<rect x="850" y="393" width="3" height="8" fill="#d75442"/>
<rect x="858" y="398" width="1" height="14" fill="#737375"/>
<rect x="856" y="399" width="5" height="11" fill="#225437"/>
<rect x="857" y="400" width="3" height="9" fill="#6ba583"/>
<rect x="866" y="393" width="1" height="15" fill="#737375"/>
<rect x="864" y="399" width="5" height="5" fill="#225437"/>
<rect x="865" y="400" width="3" height="3" fill="#6ba583"/>
<rect x="873" y="368" width="1" height="31" fill="#737375"/>
<rect x="871" y="372" width="5" height="27" fill="#225437"/>
<rect x="872" y="373" width="3" height="25" fill="#6ba583"/>
<rect x="880" y="380" width="1" height="14" fill="#737375"/>
<rect x="878" y="383" width="5" height="3" fill="#5b1a13"/>
<rect x="879" y="384" width="3" height="1" fill="#d75442"/>
<rect x="888" y="359" width="1" height="22" fill="#737375"/>
<rect x="886" y="372" width="5" height="5" fill="#5b1a13"/>
<rect x="887" y="373" width="3" height="3" fill="#d75442"/>
<rect x="895" y="375" width="1" height="9" fill="#737375"/>
<rect x="893" y="378" width="5" height="2" fill="#225437"/>
<rect x="902" y="369" width="1" height="16" fill="#737375"/>
<rect x="900" y="380" width="5" height="2" fill="#5b1a13"/>
<rect x="910" y="371" width="1" height="16" fill="#737375"/>
<rect x="908" y="374" width="5" height="11" fill="#225437"/>
<rect x="909" y="375" width="3" height="9" fill="#6ba583"/>
<rect x="917" y="352" width="1" height="27" fill="#737375"/>
<rect x="915" y="360" width="5" height="19" fill="#5b1a13"/>
<rect x="916" y="361" width="3" height="17" fill="#d75442"/>
<rect x="925" y="374" width="1" height="26" fill="#737375"/>
<rect x="923" y="378" width="5" height="6" fill="#5b1a13"/>
<rect x="924" y="379" width="3" height="4" fill="#d75442"/>
<rect x="932" y="374" width="1" height="25" fill="#737375"/>
<rect x="930" y="376" width="5" height="16" fill="#225437"/>
<rect x="931" y="377" width="3" height="14" fill="#6ba583"/>
<rect x="939" y="396" width="1" height="22" fill="#737375"/>
<rect x="937" y="398" width="5" height="1" fill="#225437"/>
<rect x="947" y="385" width="1" height="25" fill="#737375"/>
<rect x="945" y="393" width="5" height="17" fill="#225437"/>
<rect x="946" y="394" width="3" height="15" fill="#6ba583"/>
<rect x="954" y="377" width="1" height="30" fill="#737375"/>
<rect x="952" y="377" width="5" height="30" fill="#5b1a13"/>
<rect x="953" y="378" width="3" height="28" fill="#d75442"/>
<rect x="961" y="370" width="1" height="23" fill="#737375"/>
<rect x="959" y="373" width="5" height="19" fill="#225437"/>
<rect x="960" y="374" width="3" height="17" fill="#6ba583"/>
<rect x="969" y="362" width="1" height="23" fill="#737375"/>
<rect x="967" y="364" width="5" height="19" fill="#225437"/>
<rect x="968" y="365" width="3" height="17" fill="#6ba583"/>
<rect x="976" y="343" width="1" height="24" fill="#737375"/>
<rect x="974" y="345" width="5" height="22" fill="#225437"/>
<rect x="975" y="346" width="3" height="20" fill="#6ba583"/>
<rect x="983" y="326" width="1" height="25" fill="#737375"/>
<rect x="981" y="326" width="5" height="21" fill="#225437"/>
<rect x="982" y="327" width="3" height="19" fill="#6ba583"/>
<rect x="991" y="294" width="1" height="29" fill="#737375"/>
<rect x="989" y="297" width="5" height="25" fill="#225437"/>
<rect x="990" y="298" width="3" height="23" fill="#6ba583"/>
<rect x="998" y="283" width="1" height="34" fill="#737375"/>
<rect x="996" y="291" width="5" height="10" fill="#5b1a13"/>
<rect x="997" y="292" width="3" height="8" fill="#d75442"/>
<rect x="1005" y="282" width="1" height="16" fill="#737375"/>
<rect x="1003" y="288" width="5" height="7" fill="#225437"/>
<rect x="1004" y="289" width="3" height="5" fill="#6ba583"/>
<rect x="1013" y="269" width="1" height="18" fill="#737375"/>
<rect x="1011" y="273" width="5" height="14" fill="#225437"/>
<rect x="1012" y="274" width="3" height="12" fill="#6ba583"/>
<rect x="1020" y="262" width="1" height="12" fill="#737375"/>
<rect x="1018" y="262" width="5" height="12" fill="#225437"/>
<rect x="1019" y="263" width="3" height="10" fill="#6ba583"/>
<rect x="1028" y="255" width="1" height="44" fill="#737375"/>
<rect x="1026" y="269" width="5" height="30" fill="#5b1a13"/>
<rect x="1027" y="270" width="3" height="28" fill="#d75442"/>
<rect x="1035" y="270" width="1" height="19" fill="#737375"/>
<rect x="1033" y="270" width="5" height="6" fill="#225437"/>
<rect x="1034" y="271" width="3" height="4" fill="#6ba583"/>
<rect x="1042" y="258" width="1" height="19" fill="#737375"/>
<rect x="1040" y="264" width="5" height="4" fill="#5b1a13"/>
<rect x="1041" y="265" width="3" height="2" fill="#d75442"/>
<rect x="1050" y="249" width="1" height="13" fill="#737375"/>
<rect x="1048" y="253" width="5" height="9" fill="#225437"/>
<rect x="1049" y="254" width="3" height="7" fill="#6ba583"/>
<rect x="1057" y="247" width="1" height="8" fill="#737375"/>
<rect x="1055" y="249" width="5" height="2" fill="#225437"/>
<rect x="1064" y="240" width="1" height="11" fill="#737375"/>
<rect x="1062" y="241" width="5" height="10" fill="#5b1a13"/>
<rect x="1063" y="242" width="3" height="8" fill="#d75442"/>
<rect x="1072" y="247" width="1" height="23" fill="#737375"/>
<rect x="1070" y="249" width="5" height="12" fill="#5b1a13"/>
<rect x="1071" y="250" width="3" height="10" fill="#d75442"/>
<rect x="1079" y="280" width="1" height="32" fill="#737375"/>
<rect x="1077" y="282" width="5" height="19" fill="#5b1a13"/>
<rect x="1078" y="283" width="3" height="17" fill="#d75442"/>
<rect x="1086" y="310" width="1" height="16" fill="#737375"/>
<rect x="1084" y="318" width="5" height="7" fill="#5b1a13"/>
<rect x="1085" y="319" width="3" height="5" fill="#d75442"/>
<rect x="1094" y="317" width="1" height="20" fill="#737375"/>
<rect x="1092" y="335" width="5" height="2" fill="#5b1a13"/>
<rect x="1101" y="318" width="1" height="23" fill="#737375"/>
<rect x="1099" y="333" width="5" height="4" fill="#225437"/>
<rect x="1100" y="334" width="3" height="2" fill="#6ba583"/>
<rect x="1108" y="284" width="1" height="43" fill="#737375"/>
<rect x="1106" y="285" width="5" height="42" fill="#225437"/>
<rect x="1107" y="286" width="3" height="40" fill="#6ba583"/>
<rect x="1116" y="276" width="1" height="28" fill="#737375"/>
<rect x="1114" y="281" width="5" height="21" fill="#225437"/>
<rect x="1115" y="282" width="3" height="19" fill="#6ba583"/>
<rect x="1123" y="260" width="1" height="24" fill="#737375"/>
<rect x="1121" y="265" width="5" height="13" fill="#225437"/>
<rect x="1122" y="266" width="3" height="11" fill="#6ba583"/>
<rect x="1131" y="250" width="1" height="39" fill="#737375"/>
<rect x="1129" y="256" width="5" height="6" fill="#5b1a13"/>
<rect x="1130" y="257" width="3" height="4" fill="#d75442"/>
<rect x="1138" y="250" width="1" height="17" fill="#737375"/>
<rect x="1136" y="256" width="5" height="4" fill="#5b1a13"/>
<rect x="1137" y="257" width="3" height="2" fill="#d75442"/>
<rect x="1145" y="250" width="1" height="24" fill="#737375"/>
<rect x="1143" y="259" width="5" height="9" fill="#225437"/>
<rect x="1144" y="260" width="3" height="7" fill="#6ba583"/>
<rect x="1153" y="271" width="1" height="26" fill="#737375"/>
<rect x="1151" y="273" width="5" height="5" fill="#225437"/>
<rect x="1152" y="274" width="3" height="3" fill="#6ba583"/>
<rect x="1160" y="236" width="1" height="25" fill="#737375"/>
<rect x="1158" y="238" width="5" height="13" fill="#225437"/>
<rect x="1159" y="239" width="3" height="11" fill="#6ba583"/>
<rect x="1167" y="191" width="1" height="39" fill="#737375"/>
<rect x="1165" y="192" width="5" height="36" fill="#225437"/>
<rect x="1166" y="193" width="3" height="34" fill="#6ba583"/>
<rect x="1175" y="172" width="1" height="20" fill="#737375"/>
<rect x="1173" y="179" width="5" height="11" fill="#5b1a13"/>
<rect x="1174" y="180" width="3" height="9" fill="#d75442"/>
<rect x="1182" y="178" width="1" height="18" fill="#737375"/>
<rect x="1180" y="179" width="5" height="9" fill="#225437"/>
<rect x="1181" y="180" width="3" height="7" fill="#6ba583"/>
<rect x="1189" y="142" width="1" height="26" fill="#737375"/>
<rect x="1187" y="157" width="5" height="10" fill="#5b1a13"/>
<rect x="1188" y="158" width="3" height="8" fill="#d75442"/>
<rect x="1197" y="147" width="1" height="28" fill="#737375"/>
<rect x="1195" y="153" width="5" height="11" fill="#5b1a13"/>
<rect x="1196" y="154" width="3" height="9" fill="#d75442"/>
<rect x="1204" y="163" width="1" height="17" fill="#737375"/>
<rect x="1202" y="175" width="5" height="3" fill="#5b1a13"/>
<rect x="1203" y="176" width="3" height="1" fill="#d75442"/>
<rect x="1211" y="151" width="1" height="26" fill="#737375"/>
<rect x="1209" y="152" width="5" height="23" fill="#225437"/>
<rect x="1210" y="153" width="3" height="21" fill="#6ba583"/>
<rect x="1219" y="155" width="1" height="18" fill="#737375"/>
<rect x="1217" y="158" width="5" height="12" fill="#5b1a13"/>
<rect x="1218" y="159" width="3" height="10" fill="#d75442"/>
<rect x="1226" y="183" width="1" height="35" fill="#737375"/>
<rect x="1224" y="198" width="5" height="19" fill="#5b1a13"/>
<rect x="1225" y="199" width="3" height="17" fill="#d75442"/>
<rect x="1234" y="186" width="1" height="25" fill="#737375"/>
<rect x="1232" y="187" width="5" height="19" fill="#225437"/>
<rect x="1233" y="188" width="3" height="17" fill="#6ba583"/>
<rect x="1241" y="140" width="1" height="43" fill="#737375"/>
<rect x="1239" y="146" width="5" height="32" fill="#225437"/>
<rect x="1240" y="147" width="3" height="30" fill="#6ba583"/>
<rect x="1248" y="144" width="1" height="26" fill="#737375"/>
<rect x="1246" y="147" width="5" height="4" fill="#5b1a13"/>
<rect x="1247" y="148" width="3" height="2" fill="#d75442"/>
<rect x="1256" y="140" width="1" height="29" fill="#737375"/>
<rect x="1254" y="142" width="5" height="14" fill="#5b1a13"/>
<rect x="1255" y="143" width="3" height="12" fill="#d75442"/>
<rect x="1263" y="126" width="1" height="20" fill="#737375"/>
<rect x="1261" y="130" width="5" height="12" fill="#225437"/>
<rect x="1262" y="131" width="3" height="10" fill="#6ba583"/>
<rect x="1270" y="121" width="1" height="12" fill="#737375"/>
<rect x="1268" y="126" width="5" height="4" fill="#225437"/>
<rect x="1269" y="127" width="3" height="2" fill="#6ba583"/>
<rect x="1278" y="97" width="1" height="27" fill="#737375"/>
<rect x="1276" y="101" width="5" height="21" fill="#225437"/>
<rect x="1277" y="102" width="3" height="19" fill="#6ba583"/>
<rect x="1285" y="90" width="1" height="25" fill="#737375"/>
<rect x="1283" y="104" width="5" height="9" fill="#5b1a13"/>
<rect x="1284" y="105" width="3" height="7" fill="#d75442"/>
<rect x="1292" y="135" width="1" height="34" fill="#737375"/>
<rect x="1290" y="151" width="5" height="13" fill="#225437"/>
<rect x="1291" y="152" width="3" height="11" fill="#6ba583"/>
<rect x="1300" y="121" width="1" height="28" fill="#737375"/>
<rect x="1298" y="122" width="5" height="12" fill="#225437"/>
<rect x="1299" y="123" width="3" height="10" fill="#6ba583"/>
<rect x="1307" y="114" width="1" height="20" fill="#737375"/>
<rect x="1305" y="117" width="5" height="5" fill="#225437"/>
<rect x="1306" y="118" width="3" height="3" fill="#6ba583"/>
<rect x="1314" y="114" width="1" height="29" fill="#737375"/>
<rect x="1312" y="116" width="5" height="24" fill="#5b1a13"/>
<rect x="1313" y="117" width="3" height="22" fill="#d75442"/>
<rect x="1322" y="143" width="1" height="37" fill="#737375"/>
<rect x="1320" y="153" width="5" height="7" fill="#5b1a13"/>
<rect x="1321" y="154" width="3" height="5" fill="#d75442"/>
<rect x="1329" y="168" width="1" height="23" fill="#737375"/>
<rect x="1327" y="168" width="5" height="11" fill="#225437"/>
<rect x="1328" y="169" width="3" height="9" fill="#6ba583"/>
<rect x="1337" y="91" width="1" height="31" fill="#737375"/>
<rect x="1335" y="95" width="5" height="21" fill="#225437"/>
<rect x="1336" y="96" width="3" height="19" fill="#6ba583"/>
<rect x="1344" y="83" width="1" height="26" fill="#737375"/>
<rect x="1342" y="88" width="5" height="17" fill="#5b1a13"/>
<rect x="1343" y="89" width="3" height="15" fill="#d75442"/>
<rect x="1351" y="93" width="1" height="13" fill="#737375"/>
<rect x="1349" y="100" width="5" height="6" fill="#5b1a13"/>
<rect x="1350" y="101" width="3" height="4" fill="#d75442"/>
<rect x="1359" y="97" width="1" height="16" fill="#737375"/>
<rect x="1357" y="99" width="5" height="3" fill="#225437"/>
<rect x="1358" y="100" width="3" height="1" fill="#6ba583"/>
<rect x="1366" y="105" width="1" height="13" fill="#737375"/>
<rect x="1364" y="110" width="5" height="4" fill="#5b1a13"/>
<rect x="1365" y="111" width="3" height="2" fill="#d75442"/>
<rect x="1373" y="86" width="1" height="28" fill="#737375"/>
<rect x="1371" y="89" width="5" height="9" fill="#225437"/>
<rect x="1372" y="90" width="3" height="7" fill="#6ba583"/>
<rect x="1381" y="49" width="1" height="38" fill="#737375"/>
<rect x="1379" y="53" width="5" height="34" fill="#225437"/>
<rect x="1380" y="54" width="3" height="32" fill="#6ba583"/>
<rect x="1388" y="51" width="1" height="14" fill="#737375"/>
<rect x="1386" y="55" width="5" height="10" fill="#5b1a13"/>
<rect x="1387" y="56" width="3" height="8" fill="#d75442"/>
<rect x="1395" y="82" width="1" height="41" fill="#737375"/>
<rect x="1393" y="83" width="5" height="28" fill="#5b1a13"/>
<rect x="1394" y="84" width="3" height="26" fill="#d75442"/>
<rect x="1403" y="75" width="1" height="29" fill="#737375"/>
<rect x="1401" y="84" width="5" height="10" fill="#5b1a13"/>
<rect x="1402" y="85" width="3" height="8" fill="#d75442"/>
<rect x="1410" y="48" width="1" height="33" fill="#737375"/>
<rect x="1408" y="54" width="5" height="20" fill="#225437"/>
<rect x="1409" y="55" width="3" height="18" fill="#6ba583"/>
<rect x="1417" y="37" width="1" height="59" fill="#737375"/>
<rect x="1415" y="52" width="5" height="42" fill="#5b1a13"/>
<rect x="1416" y="53" width="3" height="40" fill="#d75442"/>
</g>
<line x1="2" y1="93.5" x2="1453" y2="93.5" stroke="#d75442" stroke-width="1" stroke-dasharray="1 2" shape-rendering="crispEdges"/>
<g clip-path="url(#ca)"><polyline points="-1.9,708.2 5.0,709.9 12.0,712.0 20.0,713.9 27.0,708.3 34.0,708.2 42.0,708.7 49.0,706.5 56.0,708.2 64.0,707.5 71.0,703.8 79.0,703.8 86.0,705.0 93.0,704.1 101.0,702.9 108.0,702.8 115.0,699.9 123.0,697.6 130.0,699.1 137.0,702.9 145.0,700.9 152.0,705.6 159.0,708.6 167.0,707.6 174.0,708.3 182.0,710.3 189.0,711.5 196.0,709.9 204.0,706.5 211.0,707.0 218.0,707.5 226.0,704.5 233.0,706.6 240.0,700.4 248.0,701.6 255.0,704.6 262.0,705.8 270.0,707.5 277.0,701.7 285.0,697.9 292.0,702.1 299.0,705.3 307.0,699.2 314.0,701.2 321.0,699.8 329.0,702.0 336.0,700.8 343.0,701.3 351.0,698.9 358.0,701.2 365.0,700.7 373.0,701.7 380.0,702.1 388.0,701.1 395.0,702.3 402.0,700.6 410.0,702.9 417.0,700.7 424.0,692.6 432.0,691.1 439.0,694.2 446.0,690.5 454.0,693.8 461.0,697.6 468.0,698.8 476.0,701.7 483.0,701.9 491.0,701.4 498.0,704.4 505.0,704.4 513.0,705.4 520.0,707.2 527.0,708.1 535.0,705.1 542.0,708.3 549.0,709.9 557.0,707.4 564.0,704.8 571.0,706.2 579.0,707.9 586.0,706.1 594.0,705.5 601.0,703.3 608.0,702.7 616.0,703.5 623.0,699.6 630.0,699.0 638.0,699.9 645.0,692.8 652.0,692.2 660.0,693.5 667.0,697.1 674.0,697.9 682.0,695.8 689.0,696.2 697.0,695.6 704.0,694.8 711.0,693.6 719.0,693.7 726.0,691.0 733.0,693.3 741.0,688.8 748.0,686.4 755.0,687.5 763.0,688.7 770.0,690.5 777.0,689.4 785.0,688.6 792.0,689.0 799.0,693.4 807.0,695.1 814.0,698.8 822.0,699.2 829.0,694.9 836.0,698.6 844.0,693.9 851.0,697.0 858.0,701.3 866.0,705.0 873.0,704.5 880.0,706.3 888.0,706.9 895.0,711.6 902.0,714.4 910.0,716.9 917.0,716.7 925.0,716.8 932.0,717.1 939.0,713.4 947.0,713.9 954.0,713.2 961.0,711.0 969.0,712.1 976.0,713.0 983.0,713.5 991.0,712.2 998.0,710.7 1005.0,712.8 1013.0,714.5 1020.0,718.0 1028.0,713.8 1035.0,713.3 1042.0,715.3 1050.0,717.1 1057.0,721.3 1064.0,724.5 1072.0,724.7 1079.0,718.1 1086.0,718.1 1094.0,719.4 1101.0,720.0 1108.0,714.2 1116.0,714.0 1123.0,714.7 1131.0,711.9 1138.0,714.4 1145.0,715.1 1153.0,712.4 1160.0,710.0 1167.0,705.4 1175.0,707.4 1182.0,710.0 1189.0,707.8 1197.0,708.0 1204.0,710.8 1211.0,711.0 1219.0,712.6 1226.0,707.6 1234.0,707.2 1241.0,702.8 1248.0,703.8 1256.0,704.1 1263.0,704.1 1270.0,708.3 1278.0,708.1 1285.0,709.0 1292.0,702.4 1300.0,702.3 1307.0,704.7 1314.0,705.0 1322.0,702.4 1329.0,702.0 1337.0,691.0 1344.0,692.9 1351.0,697.7 1359.0,701.4 1366.0,704.2 1373.0,704.7 1381.0,702.1 1388.0,706.0 1395.0,699.1 1403.0,698.1 1410.0,694.8 1417.0,688.8" fill="none" stroke="#b71c1c" stroke-width="1.2" stroke-linejoin="round" /></g>
<g clip-path="url(#cc)"><polyline points="-2.0,752.6 5.0,751.5 12.0,753.1 20.0,756.0 27.0,760.4 34.0,761.5 42.0,759.9 49.0,757.6 56.0,755.2 64.0,754.4 71.0,751.5 79.0,752.0 86.0,756.0 93.0,760.7 101.0,760.4 108.0,763.9 115.0,768.2 123.0,765.8 130.0,763.1 137.0,765.0 145.0,756.4 152.0,755.5 159.0,755.8 167.0,764.0 174.0,762.8 182.0,769.1 189.0,765.5 196.0,750.6 204.0,738.6 211.0,741.4 218.0,744.5 226.0,746.4 233.0,749.0 240.0,760.8 248.0,764.2 255.0,766.1 262.0,763.5 270.0,766.4 277.0,764.8 285.0,759.5 292.0,759.0 299.0,761.9 307.0,774.6 314.0,778.8 321.0,780.2 329.0,781.9 336.0,790.8 343.0,794.7 351.0,789.5 358.0,794.0 365.0,787.3 373.0,787.7 380.0,791.9 388.0,794.7 395.0,794.9 402.0,785.3 410.0,781.9 417.0,776.1 424.0,780.0 432.0,782.3 439.0,775.5 446.0,761.8 454.0,753.4 461.0,750.4 468.0,751.7 476.0,753.8 483.0,759.8 491.0,767.1 498.0,764.4 505.0,760.4 513.0,764.6 520.0,765.2 527.0,762.2 535.0,769.6 542.0,773.2 549.0,777.4 557.0,784.1 564.0,798.3 571.0,795.6 579.0,795.3 586.0,797.0 594.0,792.7 601.0,786.4 608.0,781.9 616.0,779.4 623.0,783.5 630.0,779.7 638.0,779.7 645.0,774.2 652.0,769.3 660.0,762.7 667.0,759.6 674.0,758.7 682.0,763.5 689.0,759.2 697.0,761.6 704.0,766.9 711.0,772.4 719.0,782.9 726.0,784.1 733.0,779.1 741.0,790.3 748.0,799.2 755.0,793.8 763.0,787.4 770.0,785.0 777.0,776.8 785.0,768.2 792.0,762.9 799.0,761.5 807.0,758.0 814.0,757.5 822.0,759.0 829.0,755.1 836.0,755.2 844.0,749.9 851.0,752.5 858.0,755.6 866.0,756.9 873.0,756.0 880.0,758.2 888.0,757.6 895.0,759.5 902.0,760.3 910.0,761.0 917.0,760.7 925.0,764.0 932.0,764.1 939.0,769.4 947.0,768.1 954.0,769.0 961.0,762.8 969.0,759.3 976.0,749.3 983.0,739.3 991.0,731.3 998.0,739.8 1005.0,744.2 1013.0,747.0 1020.0,749.6 1028.0,756.6 1035.0,757.2 1042.0,757.4 1050.0,756.9 1057.0,757.9 1064.0,758.7 1072.0,761.6 1079.0,769.1 1086.0,774.8 1094.0,778.4 1101.0,780.3 1108.0,772.7 1116.0,770.1 1123.0,764.5 1131.0,764.1 1138.0,761.6 1145.0,763.4 1153.0,772.2 1160.0,757.6 1167.0,744.8 1175.0,742.8 1182.0,747.5 1189.0,745.6 1197.0,750.8 1204.0,756.1 1211.0,756.1 1219.0,759.0 1226.0,766.4 1234.0,765.3 1241.0,759.7 1248.0,760.1 1256.0,760.7 1263.0,757.2 1270.0,756.4 1278.0,752.9 1285.0,753.7 1292.0,766.2 1300.0,760.2 1307.0,757.6 1314.0,762.8 1322.0,775.4 1329.0,782.3 1337.0,753.6 1344.0,754.8 1351.0,757.5 1359.0,759.5 1366.0,763.2 1373.0,758.4 1381.0,747.9 1388.0,749.9 1395.0,767.0 1403.0,762.2 1410.0,752.3 1417.0,759.0" fill="none" stroke="#2962ff" stroke-width="1.25" stroke-linejoin="round" /></g>
<g shape-rendering="crispEdges" fill="#4f4f4f"><rect x="1453" y="3" width="1" height="829"/><rect x="2" y="804" width="1517" height="1"/></g>
</svg>
<svg width="1523" height="834" viewBox="0 0 1523 834" style="position:absolute;left:0;top:0" font-family="'Liberation Sans',sans-serif">
<text x="1460.80" y="65.00" font-size="12.3" fill="#555" text-anchor="start" font-weight="normal" textLength="48.80" lengthAdjust="spacingAndGlyphs" >18250.00</text>
<text x="1460.80" y="100.00" font-size="12.3" fill="#555" text-anchor="start" font-weight="normal" textLength="48.80" lengthAdjust="spacingAndGlyphs" >18000.00</text>
<text x="1460.80" y="135.00" font-size="12.3" fill="#555" text-anchor="start" font-weight="normal" textLength="48.80" lengthAdjust="spacingAndGlyphs" >17750.00</text>
<text x="1460.80" y="170.00" font-size="12.3" fill="#555" text-anchor="start" font-weight="normal" textLength="48.80" lengthAdjust="spacingAndGlyphs" >17500.00</text>
<text x="1460.80" y="205.00" font-size="12.3" fill="#555" text-anchor="start" font-weight="normal" textLength="48.80" lengthAdjust="spacingAndGlyphs" >17250.00</text>
<text x="1460.80" y="240.00" font-size="12.3" fill="#555" text-anchor="start" font-weight="normal" textLength="48.80" lengthAdjust="spacingAndGlyphs" >17000.00</text>
<text x="1460.80" y="275.00" font-size="12.3" fill="#555" text-anchor="start" font-weight="normal" textLength="48.80" lengthAdjust="spacingAndGlyphs" >16750.00</text>
<text x="1460.80" y="310.00" font-size="12.3" fill="#555" text-anchor="start" font-weight="normal" textLength="48.80" lengthAdjust="spacingAndGlyphs" >16500.00</text>
<text x="1460.80" y="345.00" font-size="12.3" fill="#555" text-anchor="start" font-weight="normal" textLength="48.80" lengthAdjust="spacingAndGlyphs" >16250.00</text>
<text x="1460.80" y="380.00" font-size="12.3" fill="#555" text-anchor="start" font-weight="normal" textLength="48.80" lengthAdjust="spacingAndGlyphs" >16000.00</text>
<text x="1460.80" y="415.00" font-size="12.3" fill="#555" text-anchor="start" font-weight="normal" textLength="48.80" lengthAdjust="spacingAndGlyphs" >15750.00</text>
<text x="1460.80" y="450.00" font-size="12.3" fill="#555" text-anchor="start" font-weight="normal" textLength="48.80" lengthAdjust="spacingAndGlyphs" >15500.00</text>
<text x="1460.80" y="485.00" font-size="12.3" fill="#555" text-anchor="start" font-weight="normal" textLength="48.80" lengthAdjust="spacingAndGlyphs" >15250.00</text>
<text x="1460.80" y="520.00" font-size="12.3" fill="#555" text-anchor="start" font-weight="normal" textLength="48.80" lengthAdjust="spacingAndGlyphs" >15000.00</text>
<text x="1460.80" y="556.00" font-size="12.3" fill="#555" text-anchor="start" font-weight="normal" textLength="48.80" lengthAdjust="spacingAndGlyphs" >14750.00</text>
<text x="1460.80" y="591.00" font-size="12.3" fill="#555" text-anchor="start" font-weight="normal" textLength="48.80" lengthAdjust="spacingAndGlyphs" >14500.00</text>
<text x="1460.80" y="626.00" font-size="12.3" fill="#555" text-anchor="start" font-weight="normal" textLength="48.80" lengthAdjust="spacingAndGlyphs" >14250.00</text>
<text x="1460.80" y="661.00" font-size="12.3" fill="#555" text-anchor="start" font-weight="normal" textLength="48.80" lengthAdjust="spacingAndGlyphs" >14000.00</text>
<text x="1460.80" y="714.00" font-size="12.3" fill="#555" text-anchor="start" font-weight="normal" textLength="36.40" lengthAdjust="spacingAndGlyphs" >200.00</text>
<text x="1460.80" y="742.00" font-size="12.3" fill="#555" text-anchor="start" font-weight="normal" textLength="36.40" lengthAdjust="spacingAndGlyphs" >250.00</text>
<text x="1460.80" y="776.00" font-size="12.3" fill="#555" text-anchor="start" font-weight="normal" textLength="23.00" lengthAdjust="spacingAndGlyphs" >0.00</text>
<path d="M1453 261 h60 a2 2 0 0 1 2 2 v13 a2 2 0 0 1 -2 2 h-60z" fill="#000"/>
<text x="1460.80" y="274.00" font-size="12.3" fill="#fff" text-anchor="start" font-weight="normal" textLength="48.40" lengthAdjust="spacingAndGlyphs" stroke="#fff" stroke-width=".42">16764.86</text>
<path d="M1453 283 h60 a2 2 0 0 1 2 2 v13 a2 2 0 0 1 -2 2 h-60z" fill="#000"/>
<text x="1460.80" y="296.00" font-size="12.3" fill="#fff" text-anchor="start" font-weight="normal" textLength="48.40" lengthAdjust="spacingAndGlyphs" stroke="#fff" stroke-width=".42">16602.92</text>
<path d="M1453 375 h60 a2 2 0 0 1 2 2 v13 a2 2 0 0 1 -2 2 h-60z" fill="#000"/>
<text x="1460.80" y="388.00" font-size="12.3" fill="#fff" text-anchor="start" font-weight="normal" textLength="48.40" lengthAdjust="spacingAndGlyphs" stroke="#fff" stroke-width=".42">15948.63</text>
<path d="M1453 471 h60 a2 2 0 0 1 2 2 v13 a2 2 0 0 1 -2 2 h-60z" fill="#2962ff"/>
<text x="1460.80" y="484.00" font-size="12.3" fill="#fff" text-anchor="start" font-weight="normal" textLength="48.40" lengthAdjust="spacingAndGlyphs" stroke="#fff" stroke-width=".42">15261.12</text>
<text x="152.50" y="822.00" font-size="12.3" fill="#555" text-anchor="middle" font-weight="normal" >Jul</text>
<text x="299.50" y="822.00" font-size="12.3" fill="#555" text-anchor="middle" font-weight="normal" textLength="20.20" lengthAdjust="spacingAndGlyphs" >Aug</text>
<text x="380.50" y="822.00" font-size="12.3" fill="#555" text-anchor="middle" font-weight="normal" >16</text>
<text x="468.50" y="822.00" font-size="12.3" fill="#555" text-anchor="middle" font-weight="normal" textLength="19.80" lengthAdjust="spacingAndGlyphs" >Sep</text>
<text x="616.50" y="822.00" font-size="12.3" fill="#555" text-anchor="middle" font-weight="normal" textLength="19.20" lengthAdjust="spacingAndGlyphs" >Oct</text>
<text x="697.50" y="822.00" font-size="12.3" fill="#555" text-anchor="middle" font-weight="normal" >17</text>
<text x="777.50" y="822.00" font-size="12.3" fill="#555" text-anchor="middle" font-weight="normal" textLength="20.80" lengthAdjust="spacingAndGlyphs" >Nov</text>
<text x="932.50" y="822.00" font-size="12.3" fill="#555" text-anchor="middle" font-weight="normal" textLength="20.20" lengthAdjust="spacingAndGlyphs" >Dec</text>
<text x="1079.50" y="822.00" font-size="12.3" fill="#555" text-anchor="middle" font-weight="bold" >2024</text>
<text x="1234.50" y="822.00" font-size="12.3" fill="#555" text-anchor="middle" font-weight="normal" textLength="20.20" lengthAdjust="spacingAndGlyphs" >Feb</text>
<text x="1381.50" y="822.00" font-size="12.3" fill="#555" text-anchor="middle" font-weight="normal" textLength="19.60" lengthAdjust="spacingAndGlyphs" >Mar</text>
<rect x="1457.5" y="7.5" width="57" height="25" rx="4" fill="#fff" stroke="#e0e3eb"/>
<text x="1461.20" y="24.00" font-size="12.3" fill="#131722" text-anchor="start" font-weight="normal" textLength="21.50" lengthAdjust="spacingAndGlyphs" >USD</text>
<path d="M1505.0 19.0 L1507.6 21.5 L1510.2 19.0" fill="none" stroke="#131722" stroke-width="1.3"/>
<rect x="8" y="8" width="608" height="22" fill="rgba(255,255,255,.8)" rx="0" />
<rect x="8" y="33" width="180" height="28" fill="rgba(255,255,255,.8)" rx="0" />
<rect x="8" y="64" width="582" height="22" fill="rgba(255,255,255,.8)" rx="0" />
<rect x="8" y="693" width="120" height="16" fill="rgba(255,255,255,.8)" rx="0" />
<rect x="8" y="737" width="150" height="16" fill="rgba(255,255,255,.8)" rx="0" />
<circle cx="20" cy="19" r="9" fill="#0097c4"/>
<text x="20.00" y="22.10" font-size="8.6" fill="#fff" text-anchor="middle" font-weight="normal" textLength="14.20" lengthAdjust="spacingAndGlyphs" stroke="#fff" stroke-width=".45">100</text>
<text x="33.0" y="25" font-size="15.4" fill="#555" text-rendering="geometricPrecision" textLength="162.6" lengthAdjust="spacingAndGlyphs">US 100 Index · 1D · TVC</text>
<circle cx="219" cy="19" r="9" fill="#f0f0f3"/><rect x="214.3" y="17.3" width="9.4" height="3.4" rx="1.7" fill="#9598a1"/>
<text x="244.00" y="24.00" font-size="12.4" textLength="62.60" lengthAdjust="spacingAndGlyphs"><tspan fill="#555">O</tspan><tspan fill="#5b1a13">18312.79</tspan></text>
<text x="312.20" y="24.00" font-size="12.4" textLength="62.60" lengthAdjust="spacingAndGlyphs"><tspan fill="#555">H</tspan><tspan fill="#5b1a13">18416.73</tspan></text>
<text x="380.20" y="24.00" font-size="12.4" textLength="60.80" lengthAdjust="spacingAndGlyphs"><tspan fill="#555">L</tspan><tspan fill="#5b1a13">17995.38</tspan></text>
<text x="446.00" y="24.00" font-size="12.4" textLength="61.60" lengthAdjust="spacingAndGlyphs"><tspan fill="#555">C</tspan><tspan fill="#5b1a13">18018.45</tspan></text>
<text x="514.60" y="24.00" font-size="12.4" fill="#5b1a13" text-anchor="start" font-weight="normal" textLength="45.40" lengthAdjust="spacingAndGlyphs" >−279.54</text>
<text x="564.20" y="24.00" font-size="12.4" fill="#5b1a13" text-anchor="start" font-weight="normal" textLength="48.80" lengthAdjust="spacingAndGlyphs" >(−1.53%)</text>
<rect x="10.5" y="35.5" width="68" height="23" rx="4" fill="#fff" stroke="#f23645"/>
<text x="18.20" y="52.00" font-size="12.4" fill="#f23645" text-anchor="start" font-weight="normal" textLength="52.40" lengthAdjust="spacingAndGlyphs" >18018.45</text>
<text x="86.20" y="52.00" font-size="12.4" fill="#131722" text-anchor="start" font-weight="normal" textLength="22.00" lengthAdjust="spacingAndGlyphs" >0.00</text>
<rect x="116.5" y="35.5" width="67" height="23" rx="4" fill="#fff" stroke="#2962ff"/>
<text x="124.20" y="52.00" font-size="12.4" fill="#2962ff" text-anchor="start" font-weight="normal" textLength="52.40" lengthAdjust="spacingAndGlyphs" >18018.45</text>
<text x="10.40" y="80.00" font-size="12.4" fill="#555" text-anchor="start" font-weight="normal" textLength="384.20" lengthAdjust="spacingAndGlyphs" >MA Ribbon SMA close 20 SMA close 50 SMA close 100 SMA close 200</text>
<text x="402.40" y="80.00" font-size="12.4" fill="#f23645" text-anchor="start" font-weight="normal" textLength="52.20" lengthAdjust="spacingAndGlyphs" >17916.81</text>
<text x="461.00" y="80.00" font-size="12.4" fill="#2962ff" text-anchor="start" font-weight="normal" textLength="52.60" lengthAdjust="spacingAndGlyphs" >17424.00</text>
<text x="519.20" y="80.00" font-size="12.4" fill="#555" text-anchor="start" font-weight="normal" textLength="8.00" lengthAdjust="spacingAndGlyphs" >∅</text>
<text x="533.00" y="80.00" font-size="12.4" fill="#131722" text-anchor="start" font-weight="normal" textLength="53.00" lengthAdjust="spacingAndGlyphs" >15781.59</text>
<rect x="11.5" y="89.5" width="28" height="20" rx="3" fill="#fff" stroke="#d1d4dc"/>
<path d="M22 101.6 L25.5 98.2 L29 101.6" fill="none" stroke="#131722" stroke-width="1.3"/>
<text x="10.60" y="705.00" font-size="12.4" fill="#555" text-anchor="start" font-weight="normal" textLength="68.20" lengthAdjust="spacingAndGlyphs" >ATR 14 RMA</text>
<text x="86.20" y="705.00" font-size="12.4" fill="#b71c1c" text-anchor="start" font-weight="normal" textLength="38.60" lengthAdjust="spacingAndGlyphs" >245.52</text>
<text x="10.60" y="749.00" font-size="12.4" fill="#555" text-anchor="start" font-weight="normal" textLength="102.60" lengthAdjust="spacingAndGlyphs" >CCI 20 hlc3 SMA 5</text>
<text x="120.60" y="749.00" font-size="12.4" fill="#2962ff" text-anchor="start" font-weight="normal" textLength="32.20" lengthAdjust="spacingAndGlyphs" >93.53</text>
</svg>
<svg width="1523" height="834" viewBox="0 0 1523 834" style="position:absolute;left:0;top:0">
<g fill="#131722" stroke="#fff" stroke-width="4" stroke-linejoin="round" paint-order="stroke"><path d="M14 775.1H25.9V789.9H20V781H14Z"/><circle cx="31" cy="778" r="3"/><path d="M37.25 775.1H44L37.85 789.9H31.1Z"/></g>
</svg>
<div id="wm" style="position:absolute;left:0;top:0;width:1523px;height:834px;opacity:.55;z-index:60;overflow:hidden;pointer-events:none">
<div class="t" id="wm1" style="left:1271px;top:725px;font-size:59px;line-height:80px;font-weight:900;color:#fff;text-shadow:2px 2px 1.5px rgba(0,0,0,.75);font-family:'Noto Sans CJK SC','Noto Sans CJK JP',sans-serif;letter-spacing:2px;-webkit-text-stroke:5px #fff;paint-order:stroke;transform:skewX(-13deg);transform-origin:0 68px">海马财经</div>
<svg width="1523" height="834" viewBox="0 0 1523 834" style="position:absolute;left:0;top:0" font-family="'Liberation Sans',sans-serif">
<g font-family="'DejaVu Sans','Liberation Sans',sans-serif" font-size="29" font-weight="bold" font-style="italic" stroke-linejoin="round">
<text y="827.4" x="1287.2 1314.2 1342.2 1366.6 1385.6 1418.6 1445.0 1464.0 1489.6" fill="#1a9fff" stroke="#1a9fff" stroke-width="0.5" style="filter:drop-shadow(1.3px 1.2px 0 #30308a)">zzrt01.cn</text>
</g></svg>
</div>
<svg width="1523" height="834" viewBox="0 0 1523 834" style="position:absolute;left:0;top:0;z-index:61"><path d="M1483 812.6h7l3.5 6l-3.5 6h-7l-3.5-6z" fill="#fff" stroke="#131722" stroke-width="1"/><circle cx="1486.5" cy="818.6" r="2" fill="none" stroke="#131722" stroke-width="1"/></svg>
<svg width="1523" height="834" viewBox="0 0 1523 834" style="position:absolute;left:0;top:0;z-index:70"><path fill="#e0e3eb" fill-rule="evenodd" d="M0 0H1523V834H0Z M5 3H1516a3 3 0 0 1 3 3V832H2V6a3 3 0 0 1 3 -3Z"/><rect x="2" y="833" width="1518" height="1" fill="#fff"/></svg>
</body></html>
